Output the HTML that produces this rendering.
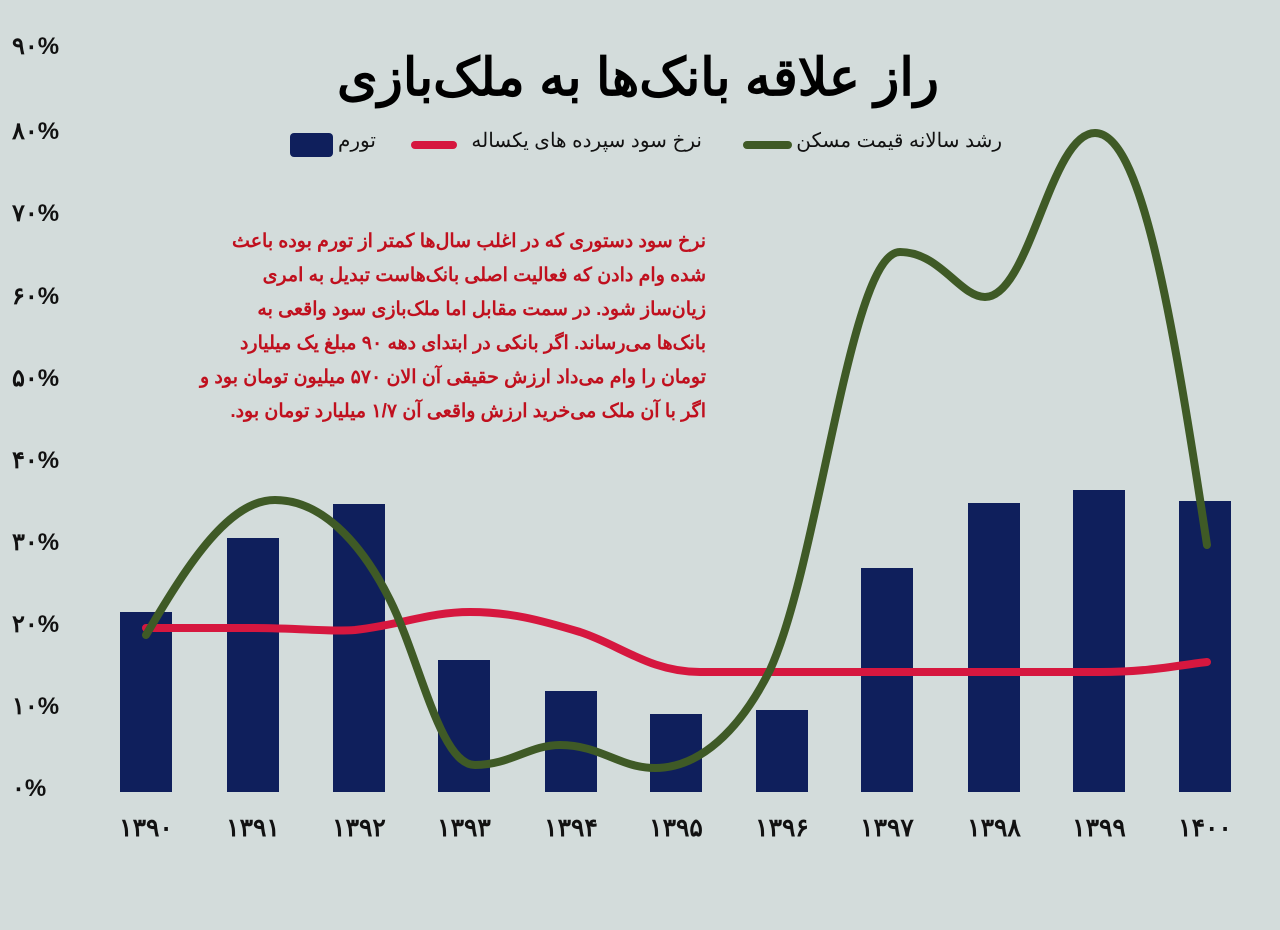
<!DOCTYPE html>
<html><head><meta charset="utf-8"><style>
body{margin:0;width:1280px;height:930px;background:#d3dcdb;position:relative;overflow:hidden;font-family:"Liberation Sans","Noto Sans CJK SC",sans-serif;}
.t{position:absolute;white-space:nowrap;}
.y{left:12px;width:54px;text-align:left;font-size:24px;font-weight:bold;color:#111;}
.x{top:813px;width:90px;text-align:center;font-size:25px;font-weight:bold;color:#111;}
</style></head><body>
<svg width="1280" height="930" style="position:absolute;left:0;top:0">
<g fill="#0f1f5c">
<rect x="120" y="612" width="52" height="180"/>
<rect x="227" y="538" width="52" height="254"/>
<rect x="333" y="504" width="52" height="288"/>
<rect x="438" y="660" width="52" height="132"/>
<rect x="545" y="691" width="52" height="101"/>
<rect x="650" y="714" width="52" height="78"/>
<rect x="756" y="710" width="52" height="82"/>
<rect x="861" y="568" width="52" height="224"/>
<rect x="968" y="503" width="52" height="289"/>
<rect x="1073" y="490" width="52" height="302"/>
<rect x="1179" y="501" width="52" height="291"/>
<rect x="290" y="133" width="43" height="24" rx="4"/>
</g>
<path d="M146,628 L250,628 C300,628 330,632 355,630 C400,625 430,612 470,612 C510,612 540,620 580,632 C620,645 650,672 700,672 L1100,672 C1150,672 1180,665 1207,662" fill="none" stroke="#d6173f" stroke-width="8" stroke-linecap="round"/>
<path d="M146,635 C190,560 230,500 275,500 C320,500 360,540 390,600 C420,660 440,765 475,765 C510,765 530,745 560,745 C600,745 620,768 655,768 C700,768 740,730 770,670 C820,560 850,252 900,252 C940,252 960,297 985,297 C1030,297 1050,133 1095,133 C1140,133 1170,300 1207,545" fill="none" stroke="#3f5a26" stroke-width="8" stroke-linecap="round"/>
<line x1="415" y1="145" x2="453" y2="145" stroke="#d6173f" stroke-width="8" stroke-linecap="round"/>
<line x1="747" y1="145" x2="788" y2="145" stroke="#3f5a26" stroke-width="8" stroke-linecap="round"/>
</svg>
<div class="t" style="left:0;width:1276px;top:48px;text-align:center;font-size:52px;font-weight:bold;color:#000;direction:rtl">راز علاقه بانک‌ها به ملک‌بازی</div>
<div class="t" style="left:338px;top:128px;font-size:20px;color:#111;direction:rtl">تورم</div>
<div class="t" style="left:460px;top:128px;width:242px;text-align:right;font-size:20px;color:#111;direction:rtl">نرخ سود سپرده های یکساله</div>
<div class="t" style="left:800px;top:128px;width:202px;text-align:right;font-size:20px;color:#111;direction:rtl">رشد سالانه قیمت مسکن</div>
<div class="t" style="left:196px;top:225px;width:510px;text-align:right;font-size:19px;line-height:34px;color:#c0101e;font-weight:bold;direction:rtl;white-space:normal">نرخ سود دستوری که در اغلب سال‌ها کمتر از تورم بوده باعث<br>شده وام دادن که فعالیت اصلی بانک‌هاست تبدیل به امری<br>زیان‌ساز شود. در سمت مقابل اما ملک‌بازی سود واقعی به<br>بانک‌ها می‌رساند. اگر بانکی در ابتدای دهه ۹۰ مبلغ یک میلیارد<br>تومان را وام می‌داد ارزش حقیقی آن الان ۵۷۰ میلیون تومان بود و<br>اگر با آن ملک می‌خرید ارزش واقعی آن ۱/۷ میلیارد تومان بود.</div>
<div class="t y" style="top:32px">۹۰%</div>
<div class="t y" style="top:117px">۸۰%</div>
<div class="t y" style="top:199px">۷۰%</div>
<div class="t y" style="top:282px">۶۰%</div>
<div class="t y" style="top:364px">۵۰%</div>
<div class="t y" style="top:446px">۴۰%</div>
<div class="t y" style="top:528px">۳۰%</div>
<div class="t y" style="top:610px">۲۰%</div>
<div class="t y" style="top:692px">۱۰%</div>
<div class="t y" style="top:774px">۰%</div>
<div class="t x" style="left:101px">۱۳۹۰</div>
<div class="t x" style="left:208px">۱۳۹۱</div>
<div class="t x" style="left:314px">۱۳۹۲</div>
<div class="t x" style="left:419px">۱۳۹۳</div>
<div class="t x" style="left:526px">۱۳۹۴</div>
<div class="t x" style="left:631px">۱۳۹۵</div>
<div class="t x" style="left:737px">۱۳۹۶</div>
<div class="t x" style="left:842px">۱۳۹۷</div>
<div class="t x" style="left:949px">۱۳۹۸</div>
<div class="t x" style="left:1054px">۱۳۹۹</div>
<div class="t x" style="left:1160px">۱۴۰۰</div>
</body></html>
